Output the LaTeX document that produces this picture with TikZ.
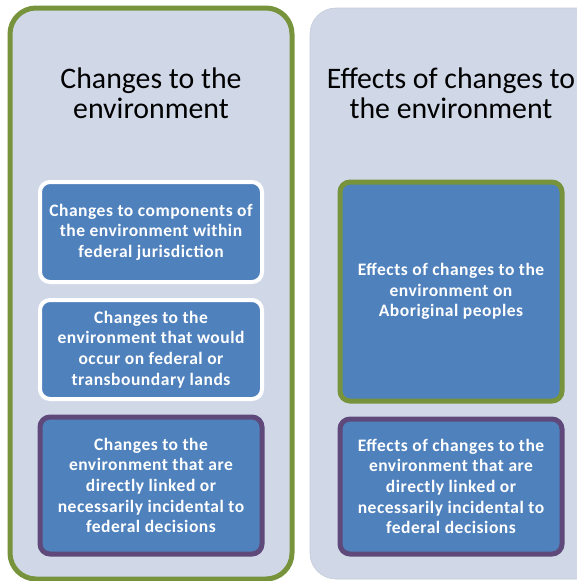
\documentclass[tikz,border=0pt]{standalone}
\usepackage{fontspec}
\setmainfont{Carlito}
\newfontfamily\boxfont[LetterSpace=3]{Carlito}
\definecolor{panelfill}{RGB}{208,216,232}
\definecolor{panelgreen}{RGB}{119,147,60}
\definecolor{boxblue}{RGB}{79,129,189}
\definecolor{boxpurple}{RGB}{95,73,122}
\begin{document}
\begin{tikzpicture}[x=1pt,y=1pt,
  panel/.style={fill=panelfill,rounded corners=26pt},
  titletext/.style={align=center,font=\fontsize{29.8}{30}\selectfont,text=black},
  itembox/.style={rounded corners=10pt,fill=boxblue,minimum width=222pt,align=center,text=white,
     font=\boxfont\bfseries\fontsize{17.5}{20.6}\selectfont,inner sep=0pt},
  whiteedge/.style={draw=white,line width=4pt},
  greenedge/.style={draw=panelgreen,line width=5pt},
  purpleedge/.style={draw=boxpurple,line width=5pt}]
\useasboundingbox (0,0) rectangle (577,-581);
\begin{scope}
\clip (0,0) rectangle (577,-581);
\draw[panel,draw=panelgreen,line width=5pt] (10,-8) rectangle (292,-579);
\draw[panel,draw=panelfill!85!gray,line width=0.6pt] (310,-8) rectangle (620,-579);
\end{scope}
\node[titletext] (t1) at (151,-93) {Changes to the\\environment};
\node[titletext] (t2) at (451,-93) {Effects of changes to\\the environment};
\node[itembox,whiteedge,minimum height=100pt] (l1) at (151,-232)
  {Changes to components of\\the environment within\\federal jurisdiction};
\node[itembox,whiteedge,minimum height=99pt] (l2) at (151,-349.5)
  {Changes to the\\environment that would\\occur on federal or\\transboundary lands};
\node[itembox,purpleedge,minimum height=137pt] (l3) at (151,-485.5)
  {Changes to the\\environment that are\\directly linked or\\necessarily incidental to\\federal decisions};
\node[itembox,greenedge,minimum height=219pt] (r1) at (451,-291.5)
  {Effects of changes to the\\environment on\\Aboriginal peoples};
\node[itembox,purpleedge,minimum height=135pt] (r2) at (451,-486.5)
  {Effects of changes to the\\environment that are\\directly linked or\\necessarily incidental to\\federal decisions};
\end{tikzpicture}
\end{document}
